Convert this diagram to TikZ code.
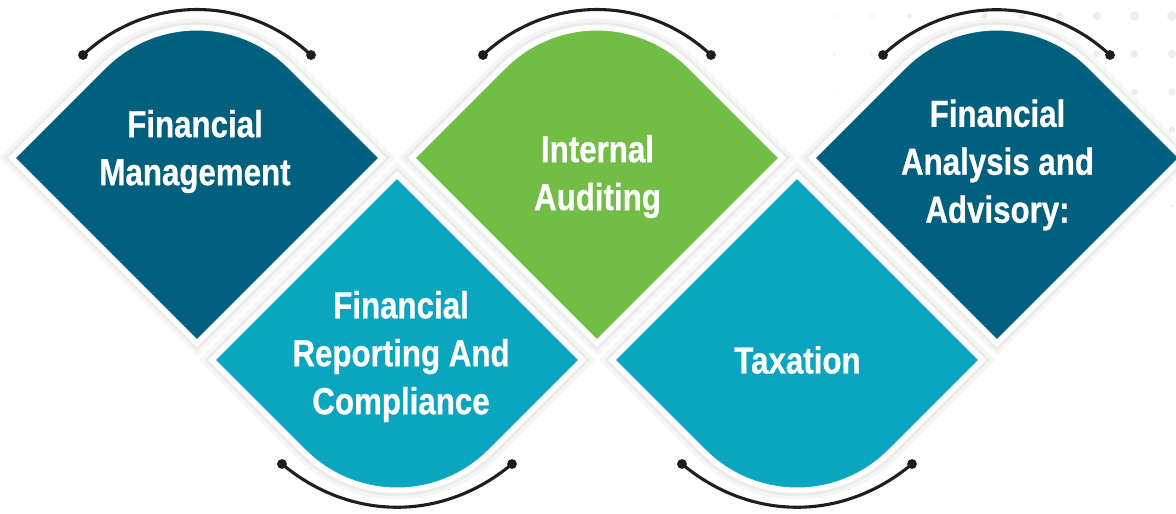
\documentclass[tikz,border=0pt]{standalone}
\usepackage{fontspec}
\usepackage{tikz}
\newfontfamily\captionfont{Liberation Sans}[FakeStretch=0.83,FakeBold=0.6]
\newcommand{\tilefont}{\captionfont\bfseries\fontsize{26.8}{34.1}\selectfont}
\definecolor{navy}{HTML}{02607F}
\definecolor{leaf}{HTML}{72BD45}
\definecolor{sea}{HTML}{0AA6BF}
\definecolor{ink}{HTML}{1E1E1E}

\begin{document}
\begin{tikzpicture}[x=0.025cm,y=0.025cm,
    tile/.style={draw=white,line width=4pt,
        preaction={draw=black!4,line width=13pt},
        preaction={draw=black!8,line width=8pt}},
    caption/.style={text=white,align=center,inner sep=0pt,font=\tilefont},
    swing/.style={draw=ink,line width=2.2pt},
    pin/.style={circle,fill=ink,inner sep=0pt,minimum size=7pt}]
    \useasboundingbox (0,0) rectangle (1176,-513);
    \fill[white] (0,0) rectangle (1176,-513);

    % faint dot grid
    \foreach \i in {0,...,5}
        \foreach \j in {0,...,10}
            \fill[black!7] ({797+37.5*\j},{-16-38*\i}) circle ({(0.8+0.42*\j)*(1-0.13*\i)});

    % upper tiles
    \foreach \cx/\col in {197/navy,597/leaf,997/navy}
        \filldraw[tile,fill=\col] ({\cx-185},-158) [rounded corners=3.3cm] -- (\cx,27)
            [sharp corners] -- ({\cx+185},-158) -- (\cx,-343) -- cycle;
    % lower tiles
    \foreach \cx in {397,797}
        \filldraw[tile,fill=sea] ({\cx-185},-360) -- (\cx,-175) -- ({\cx+185},-360)
            [rounded corners=3.3cm] -- (\cx,-545) [sharp corners] -- cycle;

    \node[caption] (fm)  at (195,-151.5)   {Financial\\Management};
    \node[caption] (frc) at (401,-356.5)   {Financial\\Reporting And\\Compliance};
    \node[caption] (ia)  at (597.5,-176.5) {Internal\\Auditing};
    \node[caption] (tax) at (797.5,-360)   {Taxation};
    \node[caption] (faa) at (997.5,-165)   {Financial\\Analysis and\\Advisory:};

    % arcs with end pins
    \node[pin] (p1l) at (83,-55)   {};
    \node[pin] (p1r) at (311,-55)  {};
    \node[pin] (p3l) at (483,-55)  {};
    \node[pin] (p3r) at (711,-55)  {};
    \node[pin] (p5l) at (883,-55)  {};
    \node[pin] (p5r) at (1110,-55) {};
    \node[pin] (p2l) at (282,-464) {};
    \node[pin] (p2r) at (512,-464) {};
    \node[pin] (p4l) at (682,-464) {};
    \node[pin] (p4r) at (912,-464) {};

    \path[swing]
        (p1l.center) edge [bend left=43]  (p1r.center)
        (p3l.center) edge [bend left=43]  (p3r.center)
        (p5l.center) edge [bend left=43]  (p5r.center)
        (p2l.center) edge [bend right=40] (p2r.center)
        (p4l.center) edge [bend right=40] (p4r.center);
\end{tikzpicture}
\end{document}
